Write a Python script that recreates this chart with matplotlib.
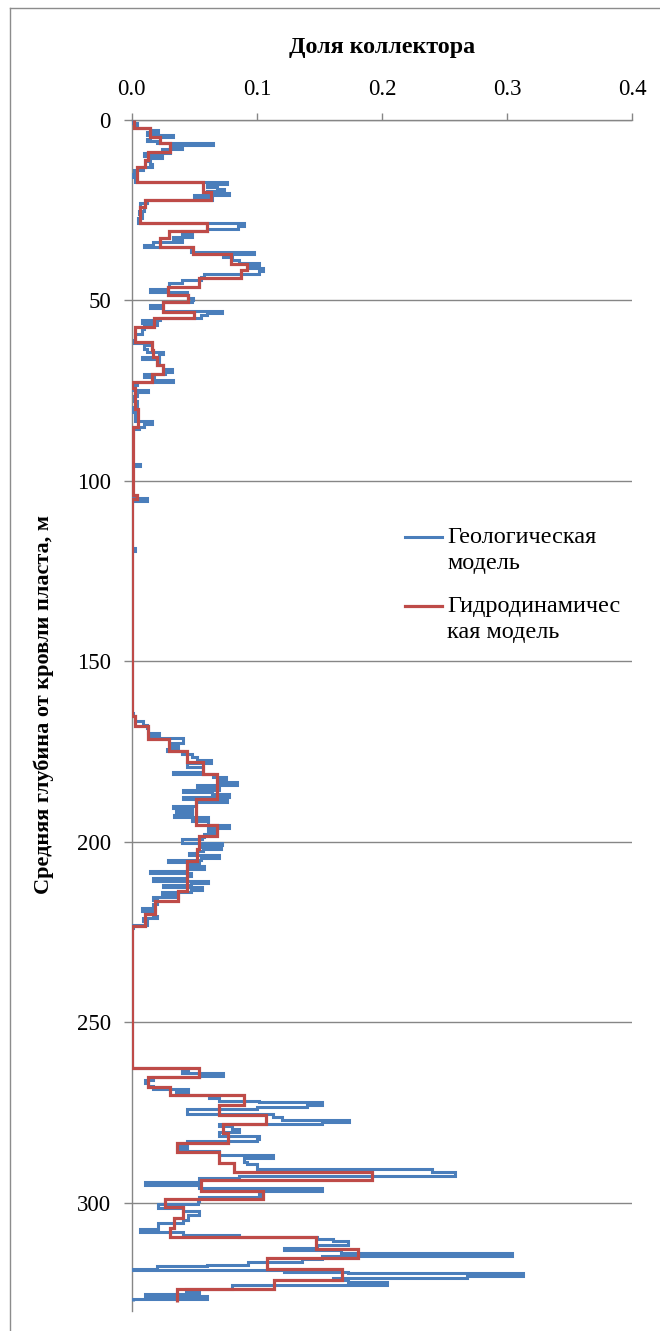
import numpy as np
import matplotlib
matplotlib.use("Agg")
import matplotlib.pyplot as plt
from matplotlib.legend_handler import HandlerLine2D
from matplotlib.lines import Line2D

plt.rcParams['font.family'] = ['Liberation Serif', 'DejaVu Serif']

title = "Доля коллектора"
ylabel = "Средняя глубина от кровли пласта, м"
geo_label = "Геологическая\nмодель"
hydro_label = "Гидродинамичес\nкая модель"
x_ticks = [0.0, 0.1, 0.2, 0.3, 0.4]
y_ticks = [0, 50, 100, 150, 200, 250, 300]

# Hydrodynamic model: layer tops (m) and reservoir share
red_top = [0, 2.4, 4.8, 6.6, 8.9, 11.2, 13.1, 17.2, 20.0, 22.3,
           24.2, 28.8, 30.8, 32.9, 35.3, 37.3, 39.9, 41.7, 44.0, 46.4,
           48.7, 50.5, 53.3, 55.1, 57.4, 61.6, 63.9, 65.8, 68.1, 70.4,
           72.7, 74.5, 80.1, 85.3, 104.0, 105.0, 165.1, 167.9, 171.6, 174.8,
           178.0, 181.3, 188.2, 195.3, 198.4, 202.1, 205.3, 213.6, 216.4, 220.1,
           223.3, 262.6, 265.1, 267.9, 270.2, 272.9, 275.7, 278.3, 280.6, 283.4,
           285.9, 288.9, 291.4, 293.7, 296.8, 298.9, 301.2, 304.2, 307.0, 309.5,
           312.7, 315.4, 318.5, 321.3, 324.0]
red_bottom = 327.5
red_share = [0.002, 0.015, 0.023, 0.031, 0.013, 0.011, 0.004, 0.057, 0.063, 0.011,
             0.007, 0.060, 0.030, 0.023, 0.049, 0.079, 0.092, 0.087, 0.054, 0.029,
             0.045, 0.025, 0.050, 0.018, 0.003, 0.016, 0.017, 0.020, 0.025, 0.016,
             0.000, 0.003, 0.005, 0.001, 0.004, 0.000, 0.003, 0.013, 0.030, 0.044,
             0.057, 0.068, 0.051, 0.068, 0.054, 0.052, 0.044, 0.037, 0.019, 0.011,
             0.000, 0.054, 0.013, 0.031, 0.090, 0.070, 0.107, 0.073, 0.077, 0.036,
             0.070, 0.082, 0.192, 0.055, 0.105, 0.027, 0.041, 0.034, 0.031, 0.147,
             0.181, 0.108, 0.168, 0.114, 0.036]

# Geological model: layer tops (m) and reservoir share
blue_top = [0.0, 1.0, 2.4, 3.0, 3.6, 4.3, 4.9, 5.5, 5.9, 6.4,
            7.0, 7.5, 8.1, 8.6, 9.2, 10.0, 10.6, 11.4, 12.3, 13.2,
            14.0, 15.0, 16.0, 17.2, 17.9, 18.6, 19.2, 19.8, 20.4, 21.0,
            21.6, 22.3, 23.0, 24.3, 25.3, 26.3, 27.4, 28.8, 29.6, 30.3,
            31.0, 31.7, 32.5, 33.3, 34.0, 34.8, 35.3, 36.0, 36.6, 37.3,
            38.2, 39.0, 39.8, 40.5, 41.1, 41.9, 42.7, 43.5, 44.5, 45.3,
            46.3, 47.0, 47.7, 48.5, 49.3, 50.0, 50.5, 51.3, 52.1, 52.9,
            53.6, 54.2, 55.0, 55.6, 56.4, 57.0, 58.0, 59.3, 61.0, 61.8,
            62.5, 63.5, 64.4, 65.0, 65.7, 66.3, 67.1, 68.0, 69.0, 69.8,
            70.5, 71.3, 72.1, 72.8, 73.5, 74.8, 75.6, 76.5, 78.0, 79.5,
            81.0, 83.6, 84.4, 85.2, 85.8, 88.0, 95.3, 96.0, 104.8, 105.6,
            118.8, 119.4, 164.5, 165.2, 166.5, 167.6, 168.6, 169.8, 170.6, 171.4,
            172.8, 173.4, 174.3, 175.0, 175.8, 176.5, 177.4, 178.3, 179.2, 180.8,
            181.4, 182.1, 182.8, 183.5, 184.3, 185.0, 185.6, 186.2, 186.9, 187.7,
            188.3, 189.0, 190.2, 190.8, 191.4, 192.0, 192.7, 193.3, 193.9, 194.4,
            195.3, 196.3, 197.0, 197.8, 198.6, 199.4, 200.3, 200.8, 201.5, 202.1,
            202.7, 203.2, 203.8, 204.6, 205.1, 205.7, 206.2, 206.7, 207.5, 208.2,
            208.8, 209.6, 210.2, 210.8, 211.5, 212.0, 212.6, 213.3, 213.9, 214.6,
            215.3, 216.2, 217.2, 218.5, 219.3, 220.5, 221.2, 222.0, 223.0, 224.0,
            262.6, 263.3, 264.0, 264.8, 265.3, 266.0, 266.8, 267.6, 268.4, 269.3,
            270.1, 270.9, 271.7, 272.2, 272.9, 273.5, 274.0, 275.5, 276.3, 277.0,
            277.7, 278.3, 278.9, 279.7, 280.5, 281.4, 282.3, 283.0, 284.2, 285.0,
            285.6, 286.8, 287.6, 288.6, 289.4, 290.6, 291.6, 292.5, 293.3, 294.2,
            295.2, 295.9, 296.9, 297.7, 298.3, 299.6, 300.3, 301.5, 302.4, 303.3,
            304.8, 305.5, 307.4, 308.2, 308.9, 309.4, 310.0, 310.6, 311.6, 312.5,
            313.0, 313.9, 314.9, 315.7, 316.5, 317.2, 317.6, 318.3, 318.7, 319.2,
            319.6, 320.3, 320.8, 321.5, 322.0, 322.7, 323.8, 324.5, 325.2, 325.8,
            326.6]
blue_bottom = 327.3
blue_share = [0.001, 0.004, 0.015, 0.021, 0.012, 0.033, 0.015, 0.012, 0.020, 0.065,
              0.031, 0.040, 0.024, 0.031, 0.010, 0.024, 0.013, 0.015, 0.016, 0.009,
              0.002, 0.001, 0.003, 0.076, 0.060, 0.068, 0.074, 0.060, 0.078, 0.050,
              0.064, 0.012, 0.007, 0.010, 0.006, 0.008, 0.005, 0.090, 0.085, 0.060,
              0.040, 0.048, 0.033, 0.040, 0.017, 0.010, 0.049, 0.047, 0.098, 0.073,
              0.080, 0.086, 0.102, 0.094, 0.105, 0.102, 0.058, 0.055, 0.040, 0.030,
              0.029, 0.015, 0.044, 0.045, 0.049, 0.048, 0.025, 0.015, 0.025, 0.072,
              0.060, 0.055, 0.023, 0.008, 0.020, 0.010, 0.008, 0.003, 0.002, 0.016,
              0.010, 0.012, 0.025, 0.022, 0.008, 0.022, 0.020, 0.025, 0.032, 0.027,
              0.010, 0.018, 0.033, 0.004, 0.001, 0.013, 0.004, 0.002, 0.004, 0.001,
              0.003, 0.016, 0.010, 0.006, 0.001, 0.000, 0.007, 0.000, 0.012, 0.000,
              0.003, 0.000, 0.001, 0.003, 0.009, 0.012, 0.013, 0.022, 0.015, 0.041,
              0.031, 0.037, 0.028, 0.040, 0.048, 0.052, 0.063, 0.044, 0.057, 0.033,
              0.065, 0.075, 0.070, 0.084, 0.052, 0.070, 0.041, 0.064, 0.078, 0.041,
              0.076, 0.051, 0.033, 0.048, 0.035, 0.048, 0.034, 0.061, 0.048, 0.061,
              0.078, 0.061, 0.068, 0.058, 0.056, 0.040, 0.072, 0.054, 0.071, 0.057,
              0.052, 0.046, 0.070, 0.055, 0.029, 0.054, 0.044, 0.058, 0.044, 0.015,
              0.047, 0.044, 0.017, 0.061, 0.047, 0.025, 0.056, 0.047, 0.024, 0.037,
              0.017, 0.020, 0.017, 0.008, 0.017, 0.020, 0.009, 0.012, 0.001, 0.000,
              0.045, 0.040, 0.073, 0.054, 0.017, 0.011, 0.013, 0.017, 0.045, 0.035,
              0.062, 0.070, 0.102, 0.152, 0.140, 0.100, 0.044, 0.113, 0.120, 0.174,
              0.152, 0.070, 0.080, 0.086, 0.070, 0.102, 0.100, 0.044, 0.038, 0.044,
              0.070, 0.113, 0.090, 0.092, 0.100, 0.240, 0.258, 0.086, 0.054, 0.011,
              0.054, 0.152, 0.102, 0.105, 0.054, 0.053, 0.021, 0.041, 0.054, 0.045,
              0.041, 0.021, 0.007, 0.041, 0.086, 0.148, 0.161, 0.173, 0.148, 0.122,
              0.167, 0.304, 0.152, 0.136, 0.093, 0.060, 0.020, 0.001, 0.122, 0.173,
              0.313, 0.268, 0.161, 0.173, 0.204, 0.080, 0.043, 0.054, 0.011, 0.060,
              0.001]

BLUE = '#4A7EBB'
RED = '#BE4B48'
GRID = '#868686'


class TopLine(HandlerLine2D):
    def create_artists(self, legend, orig_handle, xdescent, ydescent,
                       width, height, fontsize, trans):
        arts = super().create_artists(legend, orig_handle, xdescent, ydescent,
                                      width, height, fontsize, trans)
        for a in arts:
            a.set_ydata(np.asarray(a.get_ydata(), dtype=float) + 0.55 * fontsize)
        return arts


fig = plt.figure(figsize=(6.6, 13.31), dpi=100)
ax = fig.add_axes([131.7 / 660, 1 - 1311 / 1331, (632.3 - 131.7) / 660, (1311 - 119.5) / 1331])

ax.stairs(blue_share, blue_top + [blue_bottom], orientation='horizontal',
          baseline=None, color=BLUE, lw=2.2, zorder=3)
ax.stairs(red_share, red_top + [red_bottom], orientation='horizontal',
          baseline=None, color=RED, lw=2.3, zorder=4)

ax.set_xlim(0, 0.4)
ax.set_ylim(330, 0)
ax.set_xticks(x_ticks)
ax.set_xticklabels([f"{v:.1f}" for v in x_ticks])
ax.set_yticks(y_ticks)
ax.set_yticklabels([str(v) for v in y_ticks])
ax.xaxis.set_ticks_position('top')
ax.tick_params(axis='x', direction='out', length=5, width=1, color=GRID,
               labelsize=16.5, pad=9)
ax.tick_params(axis='y', direction='out', length=6, width=1, color=GRID,
               labelsize=16.5, pad=9)
ax.yaxis.grid(True, color=GRID, lw=1.0)
ax.set_axisbelow(True)
for s in ['right', 'bottom']:
    ax.spines[s].set_visible(False)
for s in ['top', 'left']:
    ax.spines[s].set_color(GRID)
    ax.spines[s].set_linewidth(1.0)

handles = [Line2D([], [], color=BLUE, lw=2.2), Line2D([], [], color=RED, lw=2.3)]
leg = ax.legend(handles, [geo_label, hydro_label], loc='upper left',
                bbox_to_anchor=(405 / 660, 1 - 527 / 1331), bbox_transform=fig.transFigure,
                frameon=False, fontsize=17.5, handlelength=1.52, handletextpad=0.22,
                labelspacing=0.92, borderpad=0, borderaxespad=0,
                handler_map={Line2D: TopLine()})
for t in leg.get_texts():
    t.set_linespacing(1.3)

fig.text(382 / 660, 1 - 48 / 1331, title, ha='center', va='center',
         fontsize=17.3, fontweight='bold')
fig.text(44 / 660, 1 - 705 / 1331, ylabel, rotation=90, ha='center', va='center',
         fontsize=16, fontweight='bold')

fig.add_artist(Line2D([10.5 / 660, 10.5 / 660], [0, 1 - 7.5 / 1331],
                      transform=fig.transFigure, color='#8c8c8c', lw=1.0))
fig.add_artist(Line2D([10.5 / 660, 1], [1 - 7.5 / 1331, 1 - 7.5 / 1331],
                      transform=fig.transFigure, color='#8c8c8c', lw=1.0))

fig.savefig('out.png', dpi=100)
